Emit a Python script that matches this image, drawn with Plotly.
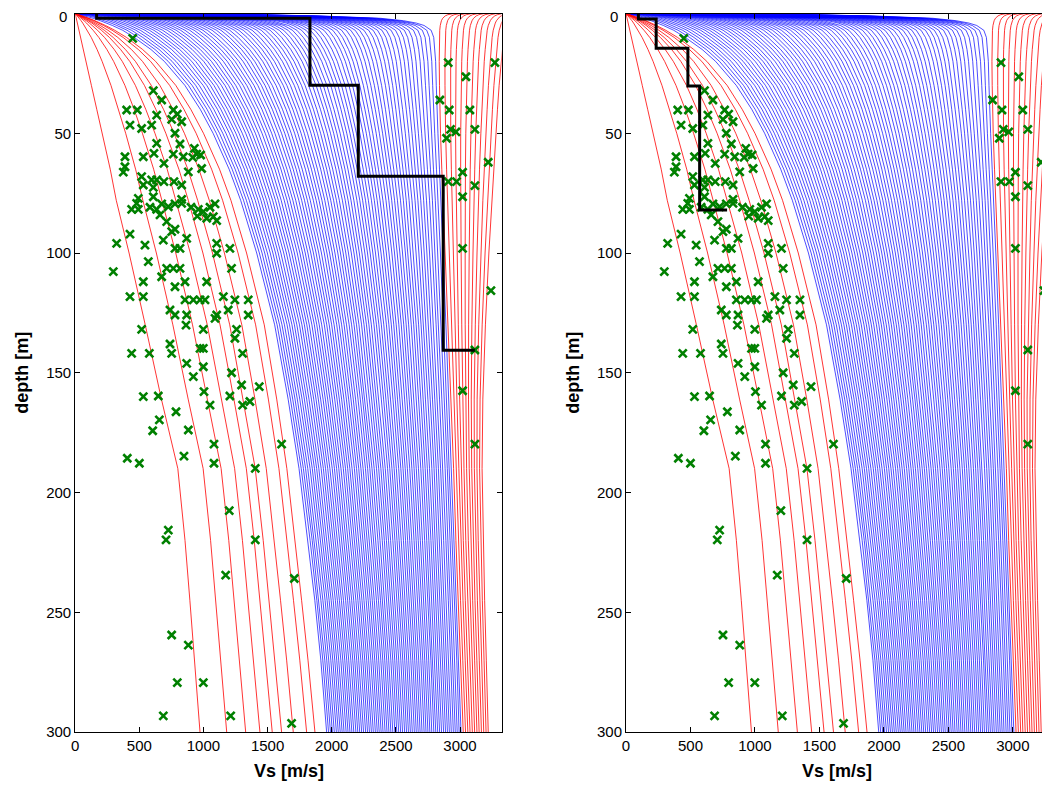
import numpy as np
import plotly.graph_objects as go

# ---------------- data ----------------
DEPTH_KNOTS = [0, 0.25, 0.5, 1, 1.5, 2, 3, 4, 5, 7, 10, 15, 20, 30, 40, 50, 65, 78,
               100, 130, 161, 190, 220, 245, 270, 300]

# reference profiles (Vs at the depth knots) of the bounding curves of each family
PROFILE_RED_FIRST = [0, 1, 2, 4, 6, 8, 13, 17, 21, 29, 42, 63, 84, 126, 168, 210, 273, 320,
                     420, 546, 672, 800, 856, 894, 932, 973]
PROFILE_RED_LAST = [0, 14.7, 28.9, 56.3, 82.5, 107, 154, 197, 236, 308, 400, 525, 627, 784,
                    901, 1000, 1125, 1214, 1336, 1474, 1571, 1650, 1715, 1765, 1815, 1869]
PROFILE_BLUE_FIRST = [0, 20, 40, 75, 110, 140, 195, 245, 290, 370, 460, 590, 695, 855, 975,
                      1075, 1200, 1290, 1415, 1555, 1660, 1745, 1815, 1868, 1915, 1960]
PROFILE_BLUE_LAST = [0, 900, 1400, 1900, 2200, 2380, 2560, 2660, 2720, 2775, 2795, 2805, 2810,
                     2815, 2820, 2828, 2840, 2852, 2868, 2890, 2912, 2935, 2955, 2972, 2990, 3008]
PROFILE_HIGH_FIRST = [2950, 2925, 2905, 2885, 2873, 2865, 2855, 2850, 2846, 2842, 2840, 2838,
                      2838, 2840, 2843, 2848, 2858, 2868, 2885, 2908, 2930, 2950, 2968, 2985,
                      3003, 3025]
PROFILE_HIGH_LAST = [3470, 3450, 3435, 3415, 3402, 3392, 3378, 3368, 3360, 3350, 3340, 3330,
                     3320, 3305, 3292, 3280, 3262, 3246, 3225, 3198, 3178, 3172, 3180, 3192,
                     3205, 3220]

# Vs at 300 m of every drawn profile
RED_LOW_VS300 = [973, 1181, 1329, 1440, 1536, 1609, 1700, 1804, 1869]
BLUE_VS300 = [1960, 1975, 1990, 2005, 2020, 2036, 2051, 2066, 2081, 2096, 2112, 2127, 2142,
              2157, 2172, 2188, 2203, 2218, 2233, 2248, 2264, 2279, 2294, 2309, 2324, 2340,
              2355, 2370, 2385, 2400, 2416, 2431, 2446, 2461, 2476, 2492, 2507, 2522, 2537,
              2552, 2568, 2583, 2598, 2613, 2628, 2644, 2659, 2674, 2689, 2704, 2720, 2735,
              2750, 2765, 2780, 2796, 2811, 2826, 2841, 2856, 2872, 2887, 2902, 2917, 2932,
              2948, 2963, 2978, 2993, 3008]
RED_HIGH_VS300 = [3025, 3043, 3061, 3078, 3096, 3114, 3132, 3149, 3167, 3185, 3203, 3220]

# measured data points (green crosses)
DATA_VS = [448, 609, 674, 401, 484, 635, 765, 796, 752, 830, 427, 518, 596, 778, 635, 817,
           388, 531, 614, 765, 843, 929, 947, 916, 978, 388, 375, 692, 882, 986, 518, 596,
           635, 692, 770, 830, 531, 609, 492, 609, 830,
           2908, 3272, 3046, 2843, 2916, 3077, 2926, 2968, 2895, 3116, 3220, 3020, 2908, 2973,
           3116, 3020,
           440, 492, 479, 583, 635, 674, 726, 778, 830, 903, 960, 999, 1051, 1090, 952, 1025,
           1077, 1103, 661, 713,
           427, 323, 544, 778, 752, 687, 869, 1103, 1206, 570, 778, 817, 297, 713, 765, 817,
           1103, 1219, 674, 531, 778, 856, 1025, 427, 531, 856, 921, 973, 1012, 1155, 1245,
           1349, 739, 778, 869, 1090, 1103, 1193, 1349, 518, 739, 752, 864, 999, 440, 578,
           973, 999, 1258, 1245, 1305, 869, 999, 921, 1219, 1297, 1435, 1004, 531, 648, 1206,
           3020, 3241, 3116, 3020,
           1051, 1305, 1362, 786, 656, 604, 882, 1082, 1609, 3116, 406, 500, 848, 1082, 1404,
           1201, 726, 708, 1404, 1173, 1708,
           752, 882, 796, 999, 687, 1212, 1687]
DATA_DEPTH = [10.4, 32.2, 36.1, 40.3, 40.3, 42.4, 40.3, 42.0, 44.2, 45.2, 46.6, 48.0, 46.6,
              50.0, 54.2, 54.5, 59.8, 59.8, 58.4, 58.7, 59.8, 56.3, 58.7, 60.1, 59.1, 64.0,
              66.2, 62.6, 66.1, 64.7, 68.1, 69.5, 69.5, 70.2, 70.2, 71.6, 71.6, 72.6, 77.2,
              76.5, 77.6,
              20.5, 20.5, 26.4, 36.1, 40.3, 40.3, 48.4, 49.4, 52.1, 48.4, 62.1, 66.3, 70.2,
              70.2, 71.9, 76.5,
              81.8, 81.8, 79.3, 80.9, 81.8, 79.5, 80.7, 79.5, 79.3, 80.9, 81.8, 82.7, 80.9,
              79.5, 84.6, 85.5, 84.8, 86.5, 84.1, 86.9,
              92.1, 96.0, 96.7, 90.1, 91.1, 94.6, 93.9, 96.0, 98.1, 103.6, 98.1, 98.1, 107.8,
              106.4, 106.4, 106.4, 100.1, 106.4, 109.9, 112.0, 114.1, 112.0, 112.0, 118.2,
              118.2, 119.6, 119.6, 119.6, 119.6, 118.2, 119.6, 119.6, 123.8, 125.9, 125.9,
              127.3, 125.9, 123.8, 125.9, 131.9, 138.0, 141.9, 130.1, 131.9, 141.9, 141.9,
              139.8, 139.8, 131.9, 135.6, 141.9, 146.1, 147.5, 151.6, 150.0, 155.1, 155.8,
              157.9, 160.0, 159.7, 159.7,
              98.1, 115.7, 140.5, 157.5,
              163.5, 163.5, 162.0, 166.3, 169.7, 174.2, 173.9, 179.8, 179.8, 179.8, 185.7,
              187.8, 184.8, 187.8, 189.9, 207.6, 215.7, 219.8, 219.8, 234.5, 235.9,
              259.5, 263.7, 279.4, 279.4, 293.3, 293.3, 296.4]

# layered site profiles (black step lines): layer velocity and layer top depth
SITE_LEFT_VS = [167, 1830, 2207, 2869, 3116]
SITE_LEFT_TOP = [0, 2, 30, 68, 140.6]
SITE_RIGHT_VS = [96, 234, 480, 571, 784]
SITE_RIGHT_TOP = [0, 2.3, 14.5, 30.3, 82]

X_MAX_LEFT = 3325
X_MAX_RIGHT = 3265
X_TICKS = [0, 500, 1000, 1500, 2000, 2500, 3000]
Y_TICKS = [0, 50, 100, 150, 200, 250, 300]
Y_TICK_TEXT = ["", "50", "100", "150", "200", "250", "300"]   # "0" is placed separately


# ---------------- helpers ----------------
def family(lo_prof, hi_prof, vs300_list):
    lo = np.asarray(lo_prof, float)
    hi = np.asarray(hi_prof, float)
    xs, ys = [], []
    for v in vs300_list:
        t = (v - lo[-1]) / (hi[-1] - lo[-1])
        prof = lo + t * (hi - lo)
        xs.extend(prof.tolist() + [None])
        ys.extend(list(DEPTH_KNOTS) + [None])
    return xs, ys


def steps(vs, tops):
    xs, ys = [], []
    for i, v in enumerate(vs):
        xs.append(v)
        ys.append(tops[i])
        if i + 1 < len(vs):
            xs.append(v)
            ys.append(tops[i + 1])
    return xs, ys


rl_x, rl_y = family(PROFILE_RED_FIRST, PROFILE_RED_LAST, RED_LOW_VS300)
b_x, b_y = family(PROFILE_BLUE_FIRST, PROFILE_BLUE_LAST, BLUE_VS300)
rh_x, rh_y = family(PROFILE_HIGH_FIRST, PROFILE_HIGH_LAST, RED_HIGH_VS300)
red_x = rl_x + rh_x
red_y = rl_y + rh_y

fig = go.Figure()

panels = [("x", "y", SITE_LEFT_VS, SITE_LEFT_TOP), ("x2", "y2", SITE_RIGHT_VS, SITE_RIGHT_TOP)]
for xa, ya, svs, stop in panels:
    fig.add_trace(go.Scatter(x=b_x, y=b_y, mode="lines", xaxis=xa, yaxis=ya,
                             line=dict(color="#0000ff", width=0.7), hoverinfo="skip",
                             showlegend=False))
    fig.add_trace(go.Scatter(x=red_x, y=red_y, mode="lines", xaxis=xa, yaxis=ya,
                             line=dict(color="#ff0000", width=0.8), hoverinfo="skip",
                             showlegend=False))
    fig.add_trace(go.Scatter(x=DATA_VS, y=DATA_DEPTH, mode="markers", xaxis=xa, yaxis=ya,
                             marker=dict(symbol="x-thin", size=8, color="#008000",
                                         line=dict(color="#008000", width=2.6)),
                             showlegend=False))
    sx, sy = steps(svs, stop)
    fig.add_trace(go.Scatter(x=sx, y=sy, mode="lines", xaxis=xa, yaxis=ya,
                             line=dict(color="#000000", width=3), showlegend=False))

# the page body has an 8 px margin: target screen pixels are shifted by OFF
OFF = 8
W, H = 1050, 785
top_px, bot_px = 13.5 - OFF, 732 - OFF
ydom = [1 - bot_px / H, 1 - top_px / H]
font_tick = dict(family="Liberation Sans, Arial, sans-serif", size=15, color="#000000")

axis_common = dict(ticks="inside", ticklen=5, tickwidth=1, tickcolor="#000000",
                   showline=True, linecolor="#000000", linewidth=1, mirror="allticks",
                   showgrid=False, zeroline=False, tickfont=font_tick, automargin=False,
                   ticklabeloverflow="allow")

fig.update_layout(
    width=W, height=H, margin=dict(l=0, r=0, t=0, b=0, autoexpand=False),
    paper_bgcolor="white", plot_bgcolor="white",
    xaxis=dict(domain=[(75.2 - OFF) / W, (501.7 - OFF) / W], range=[0, X_MAX_LEFT],
               tickvals=X_TICKS, anchor="y", **axis_common),
    yaxis=dict(domain=ydom, range=[300, 0], tickvals=Y_TICKS, ticktext=Y_TICK_TEXT,
               anchor="x", **axis_common),
    xaxis2=dict(domain=[(626 - OFF) / W, (1047 - OFF) / W], range=[0, X_MAX_RIGHT],
                tickvals=X_TICKS, anchor="y2", **axis_common),
    yaxis2=dict(domain=ydom, range=[300, 0], tickvals=Y_TICKS, ticktext=Y_TICK_TEXT,
                anchor="x2", **axis_common),
)

# top "0" depth labels, nudged down slightly so they are not cut by the page edge
for xr in [68, 619]:
    fig.add_annotation(text="0", x=(xr - OFF) / W, y=1 - (17 - OFF) / H, xref="paper",
                       yref="paper", showarrow=False, font=font_tick,
                       xanchor="right", yanchor="middle", borderpad=0)

title_font = dict(family="Liberation Sans, Arial, sans-serif", size=18, color="#000000")
ymid = 1 - ((top_px + bot_px) / 2) / H
for xc in [22, 573]:
    fig.add_annotation(text="<b>depth [m]</b>", x=(xc - OFF) / W, y=ymid, xref="paper",
                       yref="paper", textangle=-90, showarrow=False, font=title_font,
                       xanchor="center", yanchor="middle")
for xc in [288.5, 836.5]:
    fig.add_annotation(text="<b>Vs [m/s]</b>", x=(xc - OFF) / W, y=1 - (771 - OFF) / H,
                       xref="paper", yref="paper", showarrow=False, font=title_font,
                       xanchor="center", yanchor="middle")

fig.write_html("out.html")
